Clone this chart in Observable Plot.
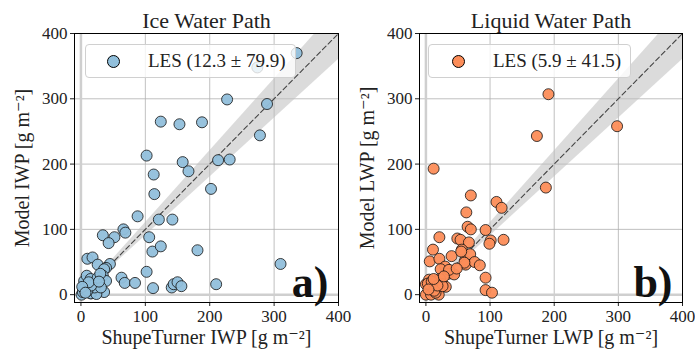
<!DOCTYPE html>
<html><head><meta charset="utf-8">
<script src="https://cdn.jsdelivr.net/npm/d3@7"></script>
<script src="https://cdn.jsdelivr.net/npm/@observablehq/plot@0.6"></script>
<style>
body{margin:0;background:#fff}
#wrap{position:relative;width:695px;height:354px;background:#fff;font-family:"Liberation Serif","DejaVu Serif",serif;color:#222}
.panel{position:absolute;top:0;overflow:visible}
.legend{position:absolute;top:44px;height:34px;border:1px solid #d0d0d0;border-radius:4px;background:rgba(255,255,255,0.8);box-sizing:border-box;font-size:19px;white-space:nowrap}
.legend .mk{position:absolute;top:10px;width:11px;height:11px;border-radius:50%;border:1px solid #000}
.legend .tx{position:absolute;top:5px}
</style></head><body><div id="wrap"></div>
<script>
// Ice water path: ShupeTurner (x) vs Model (y), g m^-2
const iwpObs   = [335,274,227,289,124,153,188,278,102,158,213,231,113,167,114,202,88,121,142,66,69,34,52,43,106,111,124,181,310,45,10,18,26,39,36,102,63,68,84,112,141,144,150,156,210,36,16,1,8,5,9,15,21,15,24,34,39,21,31,26,30,3,5,10,16,12,28,2,7];
const iwpModel = [370,348,299,292,265,261,264,244,213,203,206,207,184,189,154,162,120,115,115,100,95,91,88,79,88,66,74,68,47,47,55,57,46,41,39,35,26,18,18,10,11,16,19,13,16,4,2,0,11,21,29,24,16,2,1,29,21,11,11,26,32,4,9,6,14,19,20,12,3];
// Liquid water path
const lwpObs   = [191,173,298,187,12,70,110,118,63,65,70,93,101,99,121,21,49,54,67,11,56,6,21,40,61,62,69,76,84,30,23,35,44,93,93,103,0,5,16,22,26,31,10,21,0,8,20,15,3,9,26,13,18,55,60,36,48,4,12,28];
const lwpModel = [307,243,258,164,193,152,142,133,126,104,100,99,83,78,84,88,86,84,80,69,69,51,55,59,52,46,62,50,45,43,39,32,31,26,7,3,16,23,21,24,16,12,11,9,0,0,0,3,17,20,13,6,14,66,49,38,40,8,24,28];

const titles = ["Ice Water Path", "Liquid Water Path"];
const xLabels = ["ShupeTurner IWP [g m⁻²]", "ShupeTurner LWP [g m⁻²]"];
const yLabels = ["Model IWP [g m⁻²]", "Model LWP [g m⁻²]"];
const legendTexts = ["LES (12.3 ± 79.9)", "LES (5.9 ± 41.5)"];
const panelTags = ["a)", "b)"];
const ticks = [0, 100, 200, 300, 400];
const gridTicks = [100, 200, 300];
const oneToOne = [0, 400];
const bandX = [0, 400];
const bandLo = [0, 360];
const bandHi = [0, 440];
const colors = ["#91bfdb", "#fc8d59"];

const wrap = document.getElementById("wrap");

function makePanel(i, obs, model, left, width, mLeft, mRight) {
  const pts = obs.map((v, k) => ({x: v, y: model[k]}));
  const band = bandX.map((v, k) => ({x: v, lo: bandLo[k], hi: bandHi[k]}));
  const line = oneToOne.map(v => ({x: v, y: v}));
  const p = Plot.plot({
    width, height: 354,
    marginLeft: mLeft, marginRight: mRight, marginTop: 33, marginBottom: 52,
    x: {domain: [-10, 400]},
    y: {domain: [-12, 400]},
    style: {fontFamily: '"Liberation Serif","DejaVu Serif",serif', fontSize: "17px", color: "#222", background: "transparent", overflow: "visible"},
    marks: [
      Plot.gridX(gridTicks, {stroke: "#b0b0b0", strokeOpacity: 1, strokeWidth: 0.8}),
      Plot.gridY(gridTicks, {stroke: "#b0b0b0", strokeOpacity: 1, strokeWidth: 0.8}),
      Plot.ruleX([0], {stroke: "#cfcfcf", strokeWidth: 2.5}),
      Plot.ruleY([0], {stroke: "#cfcfcf", strokeWidth: 2.5}),
      Plot.areaY(band, {x: "x", y1: "lo", y2: "hi", fill: "#bdbdbd", fillOpacity: 0.55, clip: true}),
      Plot.line(line, {x: "x", y: "y", stroke: "#444", strokeWidth: 1.1, strokeDasharray: "5,3", clip: true}),
      Plot.dot(pts, {x: "x", y: "y", r: 5.5, fill: colors[i], fillOpacity: 0.95, stroke: "#111", strokeWidth: 0.8}),
      Plot.axisX({ticks, tickSize: 4, tickPadding: 3, label: null}),
      Plot.axisY({ticks, tickSize: 4, tickPadding: 3, label: null}),
      Plot.frame({stroke: "black", strokeWidth: 1}),
      Plot.text([xLabels[i]], {frameAnchor: "bottom", dy: 35, lineAnchor: "middle", fontSize: 20, fill: "#222"}),
      Plot.text([yLabels[i]], {frameAnchor: "left", dx: -52, rotate: -90, lineAnchor: "middle", textAnchor: "middle", fontSize: 20, fill: "#222"}),
      Plot.text([titles[i]], {frameAnchor: "top", dy: -13, lineAnchor: "middle", fontSize: 22, fill: "#222"}),
      Plot.text([panelTags[i]], {frameAnchor: "bottom-right", dx: -10, dy: -6, textAnchor: "end", lineAnchor: "bottom", fontSize: 44, fontWeight: "bold", fill: "#111"})
    ]
  });
  p.classList.add("panel");
  p.style.left = left + "px";
  wrap.appendChild(p);
}

makePanel(0, iwpObs, iwpModel, 0, 347, 74, 9);
makePanel(1, lwpObs, lwpModel, 347, 348, 72, 13);

const legendPos = [{left: 85, width: 211, mk: 21, tx: 62}, {left: 428, width: 203, mk: 23, tx: 64}];
legendPos.forEach((lp, i) => {
  const d = document.createElement("div");
  d.className = "legend";
  d.style.left = lp.left + "px";
  d.style.width = lp.width + "px";
  const mk = document.createElement("div");
  mk.className = "mk"; mk.style.left = lp.mk + "px"; mk.style.background = colors[i];
  const tx = document.createElement("div");
  tx.className = "tx"; tx.style.left = lp.tx + "px"; tx.textContent = legendTexts[i];
  d.appendChild(mk); d.appendChild(tx);
  wrap.appendChild(d);
});
</script>
</body></html>
